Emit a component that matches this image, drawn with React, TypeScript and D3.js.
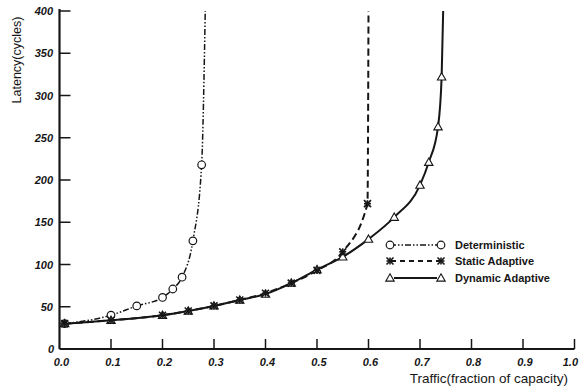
import React from "react";
import * as d3 from "d3";

const W = 579, H = 388;
const xTicks = [0.0, 0.1, 0.2, 0.3, 0.4, 0.5, 0.6, 0.7, 0.8, 0.9, 1.0];
const yTicks = [0, 50, 100, 150, 200, 250, 300, 350, 400];

const detX = [0.01, 0.1, 0.15, 0.2, 0.22, 0.238, 0.259, 0.276, 0.283];
const detY = [30, 40, 51, 61, 71, 85, 128, 218, 400];
const statX = [0.01, 0.1, 0.2, 0.25, 0.3, 0.35, 0.4, 0.45, 0.5, 0.55, 0.598, 0.6];
const statY = [30, 34, 40, 45, 51, 58, 66, 78, 93, 115, 172, 400];
const dynX = [0.01, 0.1, 0.2, 0.25, 0.3, 0.35, 0.4, 0.45, 0.5, 0.55, 0.6, 0.65, 0.7, 0.717, 0.735, 0.742, 0.745];
const dynY = [30, 34, 40, 45, 51, 58, 65, 78, 94, 109, 130, 156, 194, 221, 263, 322, 400];

const legendLabels = ["Deterministic", "Static Adaptive", "Dynamic Adaptive"];

const x = d3.scaleLinear().domain([0, 1]).range([59.5, 574.5]);
const y = d3.scaleLinear().domain([0, 400]).range([349, 11]);

const ink = "#161616";

function pts(xs: number[], ys: number[]) {
  return xs.map((v, i) => [v, ys[i]] as [number, number]);
}

const line = d3
  .line<[number, number]>()
  .x((d) => x(d[0]))
  .y((d) => y(d[1]))
  .curve(d3.curveMonotoneX);

function Circle({ cx, cy }: { cx: number; cy: number }) {
  return <circle cx={cx} cy={cy} r={3.8} fill="white" stroke={ink} strokeWidth={1.2} />;
}
function Star({ cx, cy }: { cx: number; cy: number }) {
  const s = 3.5;
  return (
    <g stroke={ink} strokeWidth={1.6}>
      <line x1={cx - s} y1={cy - s} x2={cx + s} y2={cy + s} />
      <line x1={cx - s} y1={cy + s} x2={cx + s} y2={cy - s} />
      <line x1={cx - s} y1={cy} x2={cx + s} y2={cy} />
      <line x1={cx} y1={cy - s} x2={cx} y2={cy + s} />
    </g>
  );
}
function Tri({ cx, cy }: { cx: number; cy: number }) {
  const s = 4.2;
  return (
    <path
      d={`M${cx},${cy - s} L${cx + s},${cy + s * 0.75} L${cx - s},${cy + s * 0.75} Z`}
      fill="white"
      stroke={ink}
      strokeWidth={1.1}
    />
  );
}

export default function App() {
  const det = pts(detX, detY);
  const stat = pts(statX, statY);
  const dyn = pts(dynX, dynY);
  const legY = [245, 261, 278];
  return (
    <svg
      width={W}
      height={H}
      style={{ position: "absolute", left: 0, top: 0, background: "white" }}
      fontFamily="Liberation Sans, Arial, sans-serif"
    >
      {/* axes */}
      <line x1={x(0)} y1={y(0)} x2={x(1)} y2={y(0)} stroke={ink} strokeWidth={2} />
      <line x1={x(0)} y1={y(0)} x2={x(0)} y2={9} stroke={ink} strokeWidth={2.2} />
      {xTicks.filter((t) => t > 0).map((t) => (
        <line key={"xt" + t} x1={x(t)} x2={x(t)} y1={y(0)} y2={y(0) - 10} stroke={ink} strokeWidth={1.5} />
      ))}
      {yTicks.filter((t) => t > 0).map((t) => (
        <line key={"yt" + t} x1={x(0)} x2={x(0) + 11} y1={y(t)} y2={y(t)} stroke={ink} strokeWidth={1.5} />
      ))}
      {xTicks.map((t) => (
        <text
          key={"xl" + t}
          x={t === 1 ? 578 : x(t) + 2}
          y={366}
          textAnchor={t === 1 ? "end" : "middle"}
          fontSize={11}
          fontWeight="bold"
          fontStyle="italic"
          fill={ink}
        >
          {t.toFixed(1)}
        </text>
      ))}
      {yTicks.map((t) => (
        <text
          key={"yl" + t}
          x={t === 0 ? 54 : 53}
          y={y(t) + 4}
          textAnchor="end"
          fontSize={11}
          fontWeight="bold"
          fontStyle="italic"
          fill={ink}
        >
          {t}
        </text>
      ))}
      <text x={568} y={383} textAnchor="end" fontSize={13.5} fill={ink}>
        Traffic(fraction of capacity)
      </text>
      <text
        transform="translate(21,60) rotate(-90)"
        textAnchor="middle"
        fontSize={12.5}
        fill={ink}
      >
        Latency(cycles)
      </text>

      {/* series */}
      <path d={line(det) || ""} fill="none" stroke={ink} strokeWidth={1.5} strokeDasharray="6,2,1.5,2,1.5,2" />
      <path d={line(stat) || ""} fill="none" stroke={ink} strokeWidth={2} strokeDasharray="7,4" />
      <path d={line(dyn) || ""} fill="none" stroke={ink} strokeWidth={2} />

      {det.slice(0, -1).map((p, i) => (
        <Circle key={"c" + i} cx={x(p[0])} cy={y(p[1])} />
      ))}
      {dyn.slice(0, -1).map((p, i) => (
        <Tri key={"t" + i} cx={x(p[0])} cy={y(p[1])} />
      ))}
      {stat.slice(0, -1).map((p, i) => (
        <Star key={"s" + i} cx={x(p[0])} cy={y(p[1])} />
      ))}

      {/* legend */}
      <line x1={390} x2={441} y1={legY[0]} y2={legY[0]} stroke={ink} strokeWidth={1.5} strokeDasharray="6,2,1.5,2,1.5,2" />
      <Circle cx={390} cy={legY[0]} />
      <Circle cx={441} cy={legY[0]} />
      <line x1={391} x2={440} y1={legY[1]} y2={legY[1]} stroke={ink} strokeWidth={2} strokeDasharray="5,4" />
      <Star cx={390} cy={legY[1]} />
      <Star cx={441} cy={legY[1]} />
      <line x1={394} x2={437} y1={legY[2]} y2={legY[2]} stroke={ink} strokeWidth={2} />
      <Tri cx={390} cy={legY[2]} />
      <Tri cx={441} cy={legY[2]} />
      {legendLabels.map((l, i) => (
        <text key={l} x={455} y={legY[i] + 4} fontSize={11} fontWeight="bold" fill={ink}>
          {l}
        </text>
      ))}
    </svg>
  );
}
